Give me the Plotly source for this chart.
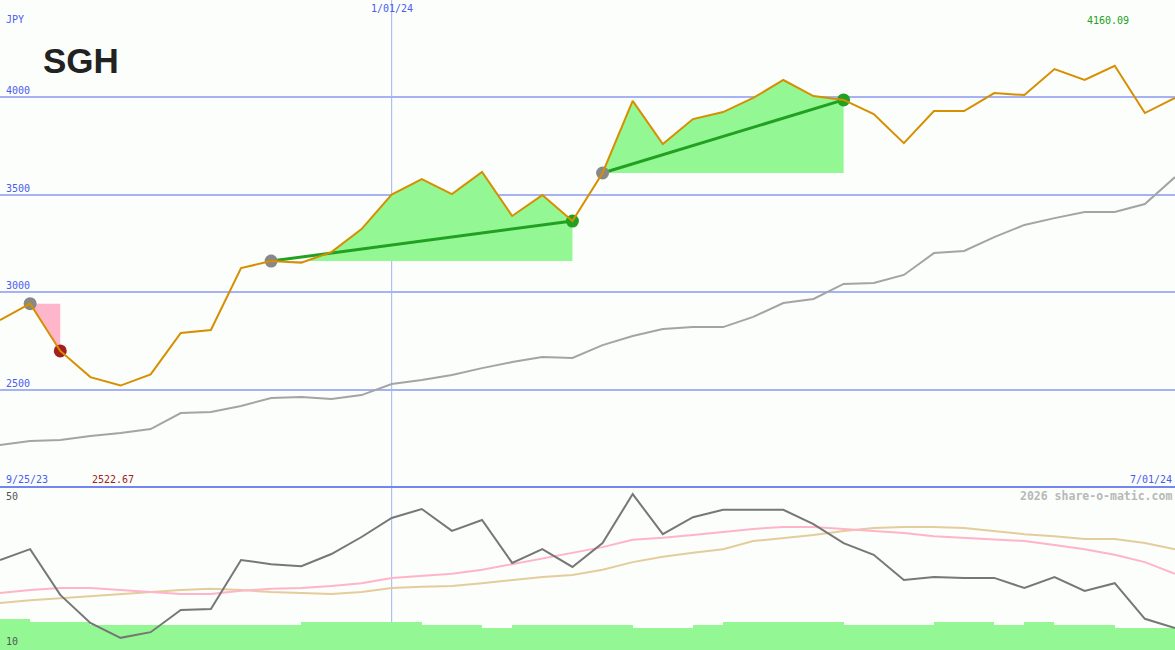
import plotly.graph_objects as go
import pandas as pd

# ---------------- data ----------------
dates = pd.date_range("2023-10-02", periods=40, freq="7D")

price = [2858, 2942, 2700, 2566, 2522.67, 2580, 2792, 2807, 3124, 3160,
         3152, 3206, 3324, 3500, 3580, 3503, 3616, 3391, 3498, 3365,
         3611, 3980, 3759, 3887, 3923, 3995, 4087, 4005, 3985, 3913,
         3764, 3928, 3928, 4020, 4010, 4143, 4087, 4160.09, 3918, 3995]

ma = [2218, 2239, 2244, 2264, 2280, 2300, 2382, 2387, 2418, 2459,
      2464, 2454, 2474, 2531, 2551, 2577, 2612, 2643, 2669, 2664,
      2730, 2776, 2812, 2822, 2822, 2874, 2945, 2966, 3043, 3048,
      3089, 3201, 3212, 3283, 3345, 3380, 3411, 3411, 3452, 3590]

osc = [32.2, 34.9, 23.6, 16.7, 13.0, 14.4, 19.9, 20.1, 32.2, 31.2,
       30.7, 33.7, 37.9, 42.6, 44.8, 39.4, 42.1, 31.5, 34.9, 30.5,
       36.4, 48.5, 38.6, 42.8, 44.6, 44.6, 44.6, 41.1, 36.4, 33.5,
       27.3, 28.0, 27.8, 27.8, 25.3, 28.0, 24.6, 26.5, 17.7, 15.4]

osc_fast = [24.1, 24.8, 25.3, 25.3, 24.8, 24.3, 23.8, 23.8, 24.6, 25.1,
            25.3, 25.8, 26.5, 27.8, 28.3, 28.8, 29.8, 31.2, 32.7, 34.0,
            35.4, 37.2, 37.7, 38.4, 39.1, 39.9, 40.4, 40.4, 39.9, 39.4,
            38.9, 38.1, 37.7, 37.4, 36.9, 35.9, 34.9, 33.5, 31.7, 28.8]

osc_slow = [21.6, 22.3, 22.8, 23.3, 23.8, 24.3, 24.8, 25.1, 24.8, 24.3,
            24.1, 23.8, 24.3, 25.3, 25.6, 25.8, 26.5, 27.3, 28.0, 28.5,
            29.8, 31.7, 33.0, 34.0, 34.9, 36.9, 37.7, 38.4, 39.4, 40.1,
            40.4, 40.4, 40.1, 39.4, 38.6, 38.1, 37.4, 37.4, 36.4, 34.9]

volume = [31, 28, 28, 25, 25, 25, 25, 25, 25, 25,
          28, 28, 28, 28, 25, 25, 22, 25, 25, 25,
          25, 22, 22, 25, 28, 28, 28, 28, 25, 25,
          25, 28, 28, 25, 28, 25, 25, 22, 22, 22]

trades = [(1, 2), (9, 19), (20, 28)]   # (entry index, exit index)

price_ticks = [2500, 3000, 3500, 4000]
ticker = "SGH"
currency = "JPY"
start_label = "9/25/23"
mid_label = "1/01/24"
end_label = "7/01/24"
credit = "2026 share-o-matic.com"

# ---------------- style ----------------
BG = "#fbfefb"
GRID = "#a6b2f4"
BLUE_TXT = "#4a5cf0"
ORANGE = "#d68f00"
GREEN_FILL = "#93f893"
PINK_FILL = "#ffb6cb"
GREEN = "#22a022"
RED = "#a42020"
MONO = "DejaVu Sans Mono"
W, H = 1175, 650
TOP_PX = 487
top_dom = [1 - TOP_PX / H, 1]
bot_dom = [0, 1 - (TOP_PX + 1) / H]


def py(px):
    return 1 - px / H


fig = go.Figure()


def split_fill(i, j):
    base = price[i]
    xs = list(dates[i:j + 1])
    ys = price[i:j + 1]
    up_x, up_y, lo_x, lo_y = [xs[0]], [base], [xs[0]], [base]
    for k in range(len(xs)):
        if k > 0:
            y0, y1 = ys[k - 1] - base, ys[k] - base
            if y0 * y1 < 0:
                f = y0 / (y0 - y1)
                xc = xs[k - 1] + (xs[k] - xs[k - 1]) * f
                up_x.append(xc); up_y.append(base)
                lo_x.append(xc); lo_y.append(base)
        up_x.append(xs[k]); up_y.append(max(ys[k], base))
        lo_x.append(xs[k]); lo_y.append(min(ys[k], base))
    up_x.append(xs[-1]); up_y.append(base)
    lo_x.append(xs[-1]); lo_y.append(base)
    return up_x, up_y, lo_x, lo_y


for (i, j) in trades:
    ux, uy, lx, ly = split_fill(i, j)
    fig.add_trace(go.Scatter(x=ux, y=uy, fill="toself", fillcolor=GREEN_FILL,
                             line=dict(width=0), mode="lines", hoverinfo="skip",
                             xaxis="x", yaxis="y"))
    fig.add_trace(go.Scatter(x=lx, y=ly, fill="toself", fillcolor=PINK_FILL,
                             line=dict(width=0), mode="lines", hoverinfo="skip",
                             xaxis="x", yaxis="y"))

# moving average
fig.add_trace(go.Scatter(x=dates, y=ma, mode="lines",
                         line=dict(color="#a4a4a4", width=2),
                         xaxis="x", yaxis="y"))

# trend lines and dots
for (i, j) in trades:
    win = price[j] > price[i]
    if win:
        fig.add_trace(go.Scatter(x=[dates[i], dates[j]], y=[price[i], price[j]],
                                 mode="lines", line=dict(color=GREEN, width=3),
                                 xaxis="x", yaxis="y"))
    fig.add_trace(go.Scatter(x=[dates[i]], y=[price[i]], mode="markers",
                             marker=dict(size=13, color="#888888"),
                             xaxis="x", yaxis="y"))
    fig.add_trace(go.Scatter(x=[dates[j]], y=[price[j]], mode="markers",
                             marker=dict(size=13, color=GREEN if win else RED),
                             xaxis="x", yaxis="y"))

# price
fig.add_trace(go.Scatter(x=dates, y=price, mode="lines",
                         line=dict(color=ORANGE, width=2),
                         xaxis="x", yaxis="y"))

# lower panel: volume underneath (y2), oscillators on top (y3)
fig.add_trace(go.Bar(x=dates, y=volume, offset=0,
                     width=7 * 24 * 3600 * 1000,
                     marker=dict(color=GREEN_FILL, line=dict(width=0)),
                     xaxis="x", yaxis="y2"))
fig.add_trace(go.Scatter(x=dates, y=osc_slow, mode="lines",
                         line=dict(color="#e4cc9c", width=2),
                         xaxis="x", yaxis="y3"))
fig.add_trace(go.Scatter(x=dates, y=osc_fast, mode="lines",
                         line=dict(color="#ffb4c8", width=2),
                         xaxis="x", yaxis="y3"))
fig.add_trace(go.Scatter(x=dates, y=osc, mode="lines",
                         line=dict(color="#777777", width=2),
                         xaxis="x", yaxis="y3"))

imax = price.index(max(price))
imin = price.index(min(price))

annotations = [
    dict(text=currency, x=0, xanchor="left", xshift=5, y=py(19), yanchor="middle",
         font=dict(family=MONO, size=10, color=BLUE_TXT)),
    dict(text=f"<b>{ticker}</b>", x=0, xanchor="left", xshift=42, y=py(61), yanchor="middle",
         font=dict(family="Liberation Sans", size=35, color="#222222")),
    dict(text=mid_label, x=dates[13], xref="x", xanchor="center", y=py(9), yanchor="middle",
         font=dict(family=MONO, size=10, color=BLUE_TXT)),
    dict(text=f"{max(price):.2f}", x=dates[imax], xref="x", xanchor="center", xshift=-7,
         y=py(20), yanchor="middle",
         font=dict(family=MONO, size=10, color=GREEN)),
    dict(text=start_label, x=0, xanchor="left", xshift=5, y=py(479), yanchor="middle",
         font=dict(family=MONO, size=10, color=BLUE_TXT)),
    dict(text=f"{min(price):.2f}", x=dates[imin], xref="x", xanchor="center", xshift=-8,
         y=py(479), yanchor="middle",
         font=dict(family=MONO, size=10, color=RED)),
    dict(text=end_label, x=1, xanchor="right", xshift=-2, y=py(479), yanchor="middle",
         font=dict(family=MONO, size=10, color=BLUE_TXT)),
    dict(text=f"<b>{credit}</b>", x=1, xanchor="right", xshift=-2, y=py(496), yanchor="middle",
         font=dict(family=MONO, size=11.5, color="#b8b8b8")),
    dict(text="50", x=0, xanchor="left", xshift=5, y=py(496), yanchor="middle",
         font=dict(family=MONO, size=10, color="#555555")),
    dict(text="10", x=0, xanchor="left", xshift=5, y=py(641), yanchor="middle",
         font=dict(family=MONO, size=10, color="#555555")),
]
for t in price_ticks:
    annotations.append(dict(text=str(t), x=0, xanchor="left", xshift=5, y=t, yref="y",
                            yanchor="bottom", yshift=0,
                            font=dict(family=MONO, size=10, color=BLUE_TXT)))
for a in annotations:
    a.setdefault("xref", "paper")
    a.setdefault("yref", "paper")
    a["showarrow"] = False
    a["borderpad"] = 0

fig.update_layout(
    width=W, height=H,
    margin=dict(l=0, r=0, t=0, b=0),
    paper_bgcolor=BG, plot_bgcolor=BG,
    showlegend=False,
    xaxis=dict(type="date", range=[dates[0], dates[-1]], showgrid=False,
               showticklabels=False, ticks="", zeroline=False, anchor="y2"),
    yaxis=dict(domain=top_dom, range=[2003.4, 4496.6], tickvals=price_ticks,
               showticklabels=False, ticks="", showgrid=True, gridcolor=GRID,
               gridwidth=2, zeroline=False, anchor="x"),
    yaxis2=dict(domain=bot_dom, range=[0, 162], showgrid=False,
                showticklabels=False, ticks="", zeroline=False, anchor="x"),
    yaxis3=dict(domain=bot_dom, range=[10, 50], overlaying="y2", showgrid=False,
                showticklabels=False, ticks="", zeroline=False, anchor="x"),
    annotations=annotations,
    shapes=[
        dict(type="line", xref="x", yref="paper", x0=dates[13], x1=dates[13],
             y0=0, y1=1, line=dict(color=GRID, width=1), layer="below"),
        dict(type="line", xref="paper", yref="paper", x0=0, x1=1,
             y0=py(TOP_PX), y1=py(TOP_PX), line=dict(color="#7484f0", width=2),
             layer="above"),
    ],
    bargap=0,
)

fig.write_html("out.html", config={"displayModeBar": False},
               post_script="document.body.style.margin='0';")
